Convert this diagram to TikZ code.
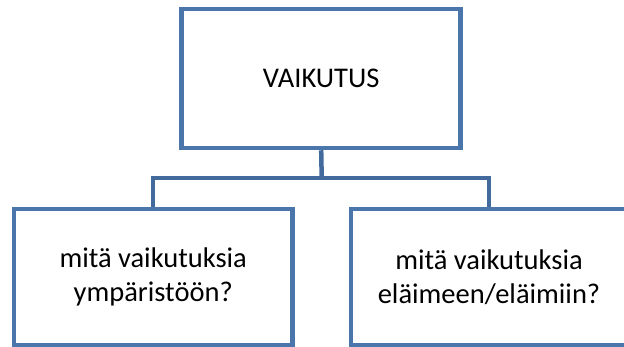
\documentclass[tikz,border=0pt]{standalone}
\usepackage{fontspec}
\setmainfont{Carlito}
\definecolor{boxblue}{RGB}{74,118,172}
\definecolor{linkblue}{RGB}{66,106,156}
\begin{document}
\begin{tikzpicture}[x=1pt,y=-1pt,
  box/.style={draw=boxblue,line width=4.5pt,fill=white,rectangle,inner sep=0pt,
    align=center,font=\fontsize{28.5}{34}\selectfont},
  link/.style={draw=linkblue,line width=4.5pt}]
\useasboundingbox (0,0) rectangle (624,347);
\clip (0,0) rectangle (624,347);
\node[box,minimum width=279pt,minimum height=139pt] (top) at (321.2,78.5) {VAIKUTUS};
\node[box,minimum width=278.5pt,minimum height=136.5pt] (left) at (153.2,277.2) {mitä vaikutuksia\\ympäristöön?};
\node[box,minimum width=276pt,minimum height=136.5pt] (right) at (489,277.2) {mitä vaikutuksia\\eläimeen/eläimiin?};
\coordinate (hub) at (321.7,178);
\draw[link] (top.south) -- (hub);
\draw[link] (left.north) |- (hub) -| (right.north);
\end{tikzpicture}
\end{document}
